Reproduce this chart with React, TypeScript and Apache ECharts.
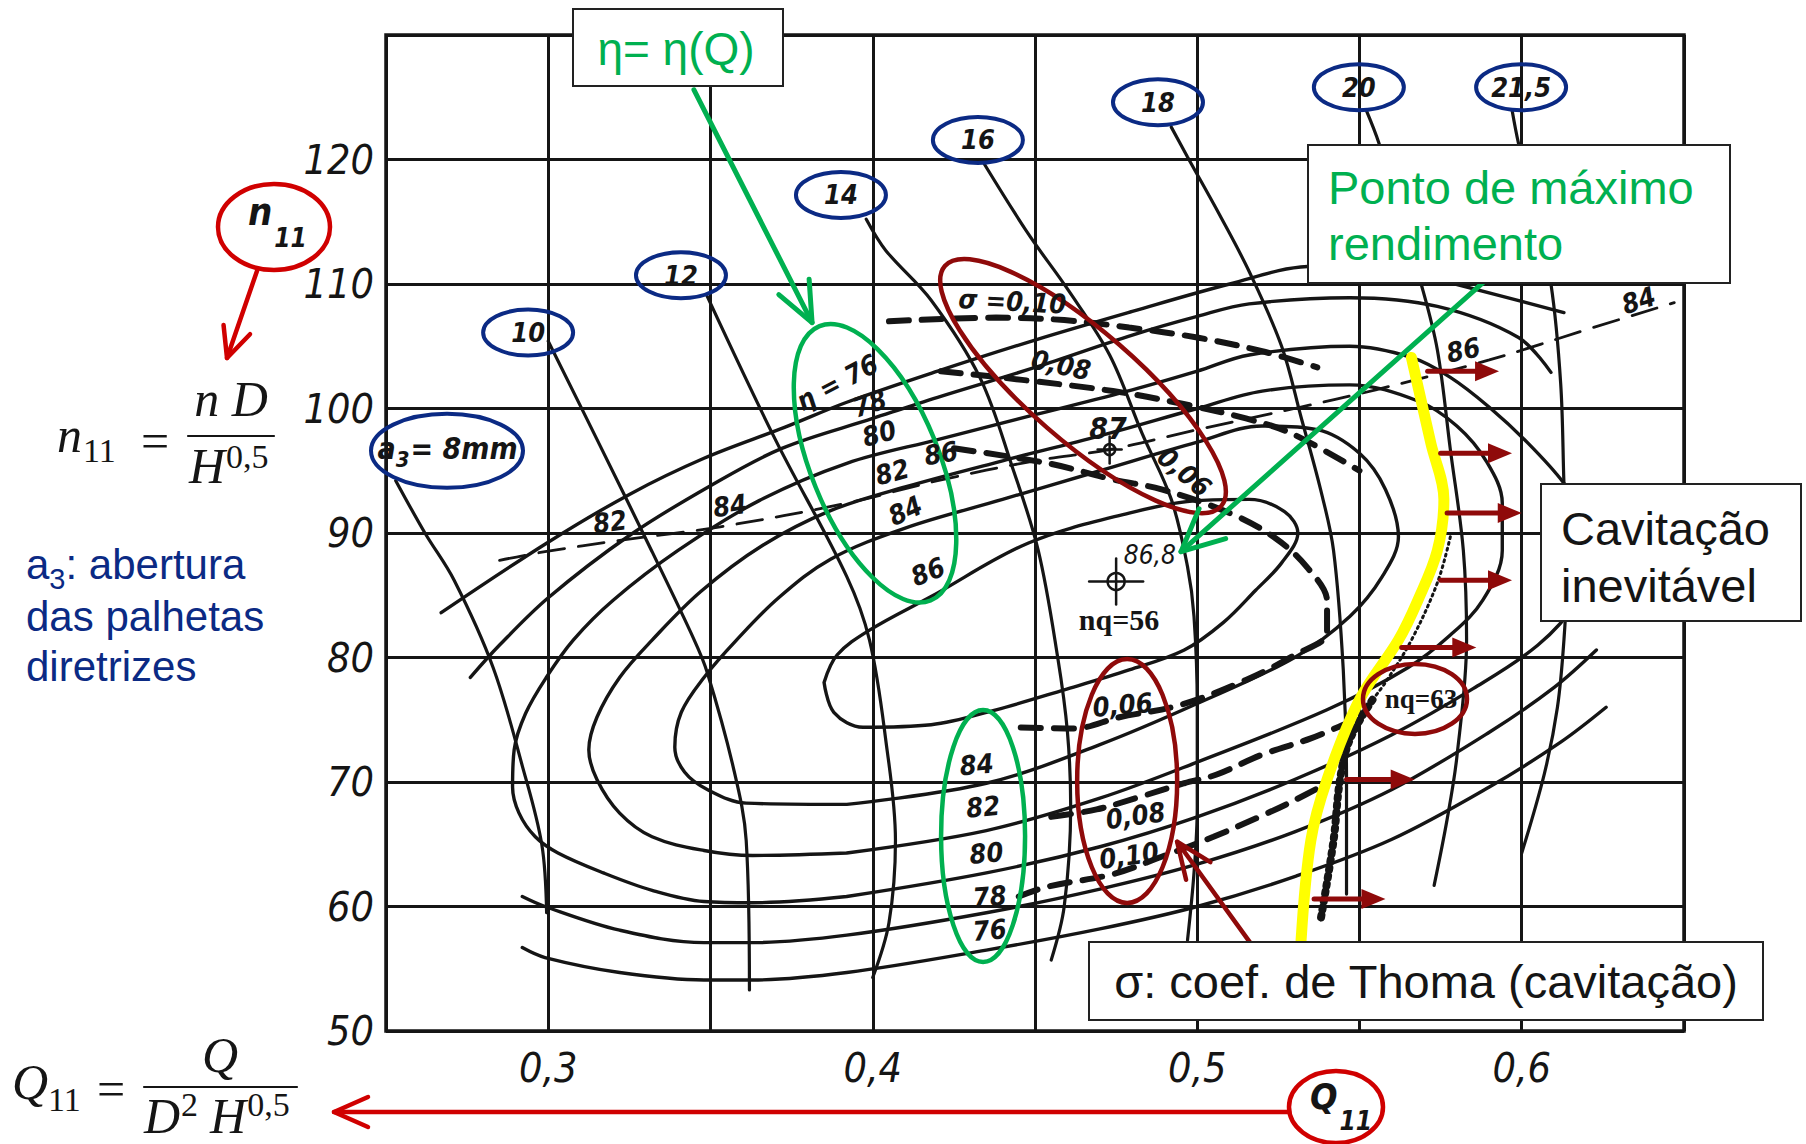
import React, { useEffect, useRef } from "react";
import * as echarts from "echarts";

// ---------- axis ticks ----------
const xTickLabels = [0.3, 0.4, 0.5, 0.6];
const yTickLabels = [50, 60, 70, 80, 90, 100, 110, 120];

// ---------- efficiency contours  [Q11, n11] ----------
const eta86 = [[0.385,78.0],[0.388,75.6],[0.397,74.4],[0.418,74.6],[0.438,75.8],[0.459,77.4],[0.479,79.0],[0.496,80.6],[0.508,82.8],[0.518,85.4],[0.526,87.6],[0.531,90.0],[0.527,91.7],[0.516,92.7],[0.500,92.6],[0.479,91.6],[0.448,89.2],[0.418,84.9],[0.399,82.2],[0.389,80.2],[0.385,78.0]];
const eta84 = [[0.392,68.2],[0.361,68.3],[0.349,69.4],[0.342,70.8],[0.339,72.8],[0.341,75.6],[0.348,78.4],[0.358,81.4],[0.371,84.8],[0.387,87.9],[0.410,90.4],[0.440,92.7],[0.470,95.0],[0.500,97.3],[0.520,98.6],[0.537,98.3],[0.550,96.4],[0.558,93.5],[0.562,89.7],[0.557,86.5],[0.547,83.3],[0.530,80.0],[0.500,76.3],[0.470,73.0],[0.435,69.9],[0.392,68.2]];
const eta82 = [[0.392,64.3],[0.363,64.1],[0.348,64.5],[0.332,65.6],[0.322,67.5],[0.315,70.2],[0.3125,72.6],[0.315,75.2],[0.322,78.4],[0.332,81.4],[0.347,85.3],[0.366,89.0],[0.387,91.8],[0.410,93.7],[0.440,95.8],[0.470,97.8],[0.500,100.0],[0.520,101.4],[0.547,101.9],[0.568,100.6],[0.580,98.6],[0.589,95.8],[0.594,92.4],[0.594,88.6],[0.588,84.6],[0.578,81.8],[0.565,79.2],[0.540,75.8],[0.500,71.6],[0.470,68.7],[0.435,66.1],[0.392,64.3]];
const eta80 = [[0.392,60.8],[0.435,62.7],[0.470,64.8],[0.500,67.2],[0.530,70.2],[0.560,73.8],[0.585,77.5],[0.605,81.0],[0.617,84.5],[0.622,88.0],[0.620,91.0],[0.613,94.0],[0.602,97.2],[0.590,100.1],[0.578,102.5],[0.566,104.1],[0.547,105.0],[0.516,104.3],[0.500,103.0],[0.480,101.5],[0.450,99.5],[0.420,97.5],[0.392,95.6],[0.365,92.6],[0.340,88.6],[0.320,84.6],[0.3077,81.4],[0.2994,78.4],[0.293,75.5],[0.2895,72.6],[0.289,69.6],[0.291,67.5],[0.296,65.6],[0.303,64.3],[0.317,62.7],[0.332,61.3],[0.348,60.4],[0.363,60.3],[0.392,60.8]];
const eta78Lower = [[0.292,60.8],[0.299,60.0],[0.322,58.1],[0.348,57.1],[0.363,57.1],[0.392,57.7],[0.435,59.5],[0.470,61.4],[0.500,63.4],[0.530,66.0],[0.560,69.4],[0.590,74.0],[0.610,77.6],[0.623,80.6]];
const eta78Upper = [[0.276,78.4],[0.285,81.0],[0.300,84.8],[0.325,89.8],[0.350,93.8],[0.372,96.8],[0.400,99.2],[0.420,100.9],[0.450,103.3],[0.480,105.9],[0.500,107.4],[0.516,108.4],[0.547,108.9],[0.574,108.2],[0.599,105.7],[0.609,102.9]];
const eta76Lower = [[0.292,56.7],[0.299,55.9],[0.322,54.7],[0.348,54.1],[0.363,54.1],[0.392,54.7],[0.435,56.5],[0.470,58.2],[0.500,60.0],[0.530,62.4],[0.560,65.4],[0.590,69.6],[0.612,73.2],[0.626,76.0]];
const eta76Upper = [[0.267,83.6],[0.2996,89.2],[0.325,93.1],[0.348,96.0],[0.373,98.5],[0.392,100.5],[0.420,103.0],[0.450,105.5],[0.480,107.8],[0.510,110.0],[0.534,111.4],[0.556,111.5],[0.578,110.1],[0.613,107.7]];

// ---------- guide vane opening a3 ----------
const a3_8 = [[0.253,94.2],[0.262,90.0],[0.271,86.2],[0.283,79.2],[0.292,71.3],[0.298,65.0],[0.2995,59.5]];
const a3_10 = [[0.300,105.4],[0.316,97.0],[0.332,88.5],[0.345,81.4],[0.349,78.8],[0.357,71.2],[0.361,65.3],[0.362,53.3]];
const a3_12 = [[0.349,109.0],[0.370,97.5],[0.392,86.5],[0.399,81.4],[0.404,73.4],[0.407,65.3],[0.405,58.7],[0.400,54.3]];
const a3_14 = [[0.398,115.2],[0.404,112.7],[0.418,108.7],[0.433,102.5],[0.443,95.3],[0.451,88.6],[0.457,80.0],[0.460,74.0],[0.461,68.0],[0.459,60.0],[0.455,55.7]];
const a3_16 = [[0.434,119.8],[0.448,114.0],[0.460,109.6],[0.473,104.3],[0.483,98.0],[0.492,92.7],[0.497,87.3],[0.499,83.3],[0.500,76.0],[0.500,68.0],[0.499,62.7],[0.497,57.3]];
const a3_18 = [[0.492,122.6],[0.497,120.2],[0.507,115.5],[0.516,111.0],[0.526,105.0],[0.532,99.3],[0.538,93.5],[0.542,88.6],[0.545,79.0],[0.546,70.0],[0.546,61.0]];
const a3_20 = [[0.552,124.0],[0.556,121.3],[0.562,116.0],[0.569,110.0],[0.574,104.7],[0.578,96.7],[0.582,88.6],[0.583,81.4],[0.580,72.0],[0.577,67.0],[0.573,61.7]];
const a3_215 = [[0.597,124.0],[0.599,121.3],[0.604,116.0],[0.609,110.0],[0.612,102.0],[0.613,94.0],[0.614,87.0],[0.613,81.4],[0.611,76.0],[0.607,70.7],[0.600,64.3]];

// ---------- Thoma coefficient sigma ----------
const sigma010Upper = [[0.405,107.0],[0.438,107.3],[0.459,107.1],[0.479,106.5],[0.500,105.7],[0.520,104.6],[0.537,103.3]];
const sigma008Upper = [[0.421,103.0],[0.446,102.3],[0.474,101.4],[0.495,100.4],[0.515,99.2],[0.529,98.0],[0.550,95.0]];
const sigma006 = [[0.425,96.8],[0.454,95.6],[0.474,94.3],[0.489,93.5],[0.510,91.6],[0.524,89.6],[0.534,87.2],[0.540,84.5],[0.540,82.0],[0.530,80.2],[0.515,78.2],[0.495,76.2],[0.476,75.2],[0.462,74.3],[0.444,74.4]];
const sigma008Lower = [[0.455,67.2],[0.469,67.8],[0.481,68.7],[0.496,69.9],[0.506,70.6],[0.520,72.2],[0.535,73.5],[0.545,74.6]];
const sigma010Lower = [[0.445,60.8],[0.454,61.6],[0.474,62.6],[0.489,64.0],[0.505,65.6],[0.520,67.3],[0.529,68.4],[0.540,69.9]];

// ---------- ridge (thin dashed) ----------
const ridge = [[0.285,87.8],[0.299,88.5],[0.322,89.4],[0.353,90.5],[0.392,92.4],[0.420,94.2],[0.450,95.8],[0.473,96.7],[0.500,98.3],[0.530,100.0],[0.555,101.5],[0.590,103.9],[0.622,106.5],[0.647,108.5]];

// ---------- cavitation limit ----------
const yellowLimit = [[0.566,104.1],[0.572,97.2],[0.576,92.7],[0.574,88.6],[0.568,84.6],[0.562,81.4],[0.550,76.6],[0.540,70.2],[0.535,65.3],[0.532,57.3]];
const dottedLimit = [[0.578,89.7],[0.574,86.0],[0.566,81.4],[0.558,78.0],[0.554,76.6]];
const hatchedLimit = [[0.554,76.6],[0.547,73.4],[0.544,70.2],[0.542,65.3],[0.538,58.9]];
const cavArrowN = [103.0, 96.4, 91.6, 86.2, 80.8, 70.2, 60.6];
const cavArrowFrom = [0.571, 0.575, 0.577, 0.575, 0.563, 0.546, 0.536];
const cavArrowTo = [0.593, 0.597, 0.600, 0.597, 0.586, 0.567, 0.558];

// ---------- marked points ----------
const bestPoint = [0.475, 86.1];
const peakPoint = [0.473, 96.7];

// ---------- in-plot labels ----------
const etaUpperLabels = [
  { text: "η = 76", q: 0.389, n: 102.1, rot: 28 },
  { text: "78", q: 0.399, n: 100.4, rot: 18 },
  { text: "80", q: 0.402, n: 98.0, rot: 15 },
  { text: "82", q: 0.406, n: 94.9, rot: 15 },
  { text: "84", q: 0.410, n: 91.8, rot: 25 },
  { text: "86", q: 0.417, n: 86.9, rot: 22 },
];
const etaLowerLabels = [
  { text: "84", q: 0.432, n: 71.4 },
  { text: "82", q: 0.434, n: 68.0 },
  { text: "80", q: 0.435, n: 64.3 },
  { text: "78", q: 0.436, n: 60.8 },
  { text: "76", q: 0.436, n: 58.1 },
];
const ridgeLabels = [
  { text: "82", q: 0.319, n: 90.9, rot: 8 },
  { text: "84", q: 0.356, n: 92.2, rot: 8 },
  { text: "86", q: 0.421, n: 96.4, rot: 10 },
  { text: "86", q: 0.582, n: 104.7, rot: 12 },
  { text: "84", q: 0.636, n: 108.7, rot: 18 },
];
const sigmaLabels = [
  { text: "σ =0,10", q: 0.443, n: 108.6, rot: -3 },
  { text: "0,08", q: 0.458, n: 103.5, rot: -12 },
  { text: "0,06", q: 0.496, n: 94.9, rot: -40 },
  { text: "0,06", q: 0.477, n: 76.2, rot: 5 },
  { text: "0,08", q: 0.481, n: 67.3, rot: 8 },
  { text: "0,10", q: 0.479, n: 64.1, rot: 8 },
];
const a3Labels = [
  { text: "10", q: 0.2938, n: 106.1 },
  { text: "12", q: 0.3409, n: 110.7 },
  { text: "14", q: 0.3902, n: 117.15 },
  { text: "16", q: 0.4324, n: 121.57 },
  { text: "18", q: 0.4879, n: 124.6 },
  { text: "20", q: 0.5498, n: 125.8 },
  { text: "21,5", q: 0.5998, n: 125.8 },
];
const a3FirstLabel = { q: 0.2688, n: 96.6 };

const HAND = "'Liberation Sans Narrow', 'DejaVu Sans Condensed', 'Liberation Sans', sans-serif";
const ARIAL = "'Liberation Sans', Arial, sans-serif";
const SERIF = "'Liberation Serif', 'DejaVu Serif', serif";
const BLACK = "#151515";
const GREEN = "#00b050";
const NAVY = "#0b2a84";
const DRED = "#8f0a0a";
const RED = "#d00000";

export default function App() {
  const ref = useRef<HTMLDivElement>(null);

  useEffect(() => {
    const chart = echarts.init(ref.current as HTMLDivElement, null, { renderer: "svg" });

    const ln = (data: number[][], width = 3.4, type: any = "solid", color = BLACK, z = 2) => ({
      type: "line",
      data,
      smooth: 0.35,
      symbol: "none",
      silent: true,
      z,
      lineStyle: { color, width, type, cap: "round" },
      emphasis: { disabled: true },
    });

    chart.setOption({
      animation: false,
      backgroundColor: "#ffffff",
      grid: { left: 386, right: 122, top: 35, bottom: 113, show: true, borderColor: BLACK, borderWidth: 3.5 },
      xAxis: {
        type: "value",
        min: 0.25,
        max: 0.65,
        interval: 0.05,
        axisLine: { show: false },
        axisTick: { show: false },
        splitLine: { show: true, lineStyle: { color: BLACK, width: 3 } },
        axisLabel: {
          margin: 16,
          fontSize: 41,
          fontStyle: "italic",
          fontFamily: HAND,
          color: BLACK,
          formatter: (v: number) => {
            const r = Math.round(v * 100) / 100;
            return xTickLabels.some((t) => Math.abs(t - r) < 1e-6) ? r.toFixed(1).replace(".", ",") : "";
          },
        },
      },
      yAxis: {
        type: "value",
        min: 50,
        max: 130,
        interval: 10,
        axisLine: { show: false },
        axisTick: { show: false },
        splitLine: { show: true, lineStyle: { color: BLACK, width: 3 } },
        axisLabel: {
          margin: 12,
          fontSize: 41,
          fontStyle: "italic",
          fontFamily: HAND,
          color: BLACK,
          formatter: (v: number) => (yTickLabels.includes(Math.round(v)) ? String(Math.round(v)) : ""),
        },
      },
      series: [
        ln(eta86), ln(eta84), ln(eta82), ln(eta80),
        ln(eta78Lower), ln(eta78Upper), ln(eta76Lower), ln(eta76Upper),
        ln(a3_8, 3.2), ln(a3_10, 3.2), ln(a3_12, 3.2), ln(a3_14, 3.2),
        ln(a3_16, 3.2), ln(a3_18, 3.2), ln(a3_20, 3.2), ln(a3_215, 3.2),
        ln(sigma010Upper, 6, [20, 13]), ln(sigma008Upper, 6, [20, 13]), ln(sigma006, 6, [20, 13]),
        ln(sigma008Lower, 6, [20, 13]), ln(sigma010Lower, 6, [20, 13]),
        ln(ridge, 2.8, [26, 14]),
        ln(dottedLimit, 3, [2, 4]),
        ln(hatchedLimit, 2.8),
        ln(hatchedLimit, 8, [2, 6]),
        ln(yellowLimit, 11, "solid", "#ffff00", 4),
      ],
    });

    const P = (q: number, n: number) => chart.convertToPixel({ gridIndex: 0 }, [q, n]) as number[];
    const cv = document.createElement("canvas").getContext("2d") as CanvasRenderingContext2D;
    const W = (font: string, s: string) => {
      cv.font = font;
      return cv.measureText(s).width;
    };
    const g: any[] = [];
    const text = (x: number, y: number, s: string, font: string, fill: string, align = "center", rot = 0, z = 30) =>
      g.push({
        type: "text", x, y, rotation: (rot * Math.PI) / 180, z, silent: true,
        style: { text: s, font, fill, textAlign: align, textVerticalAlign: "middle" },
      });
    const ell = (x: number, y: number, rx: number, ry: number, stroke: string, lw: number, rot = 0, z = 25) =>
      g.push({
        type: "ellipse", x, y, rotation: (rot * Math.PI) / 180, z, silent: true,
        shape: { cx: 0, cy: 0, rx, ry }, style: { fill: "none", stroke, lineWidth: lw },
      });
    const seg = (x1: number, y1: number, x2: number, y2: number, stroke: string, lw: number, z = 26) =>
      g.push({ type: "line", z, silent: true, shape: { x1, y1, x2, y2 }, style: { stroke, lineWidth: lw, lineCap: "round" } });
    const arrow = (x1: number, y1: number, x2: number, y2: number, color: string, lw: number, head: number, hw: number, filled: boolean, z = 26) => {
      const dx = x2 - x1, dy = y2 - y1, L = Math.hypot(dx, dy);
      const ux = dx / L, uy = dy / L, px = -uy, py = ux;
      const bx = x2 - ux * head, by = y2 - uy * head;
      if (filled) {
        seg(x1, y1, bx + ux * 2, by + uy * 2, color, lw, z);
        g.push({ type: "polygon", z, silent: true, shape: { points: [[x2, y2], [bx + px * hw, by + py * hw], [bx - px * hw, by - py * hw]] }, style: { fill: color } });
      } else {
        seg(x1, y1, x2, y2, color, lw, z);
        g.push({ type: "polyline", z, silent: true, shape: { points: [[bx + px * hw, by + py * hw], [x2, y2], [bx - px * hw, by - py * hw]] }, style: { stroke: color, lineWidth: lw, fill: "none", lineCap: "round", lineJoin: "round" } });
      }
    };
    const box = (x: number, y: number, w: number, h: number) =>
      g.push({ type: "rect", z: 40, silent: true, shape: { x, y, width: w, height: h }, style: { fill: "#ffffff", stroke: "#222", lineWidth: 2 } });

    // ----- in-plot hand labels -----
    const fLab = `italic bold 27px ${HAND}`;
    etaUpperLabels.forEach((l) => { const [x, y] = P(l.q, l.n); text(x, y, l.text, fLab, BLACK, "center", l.rot); });
    etaLowerLabels.forEach((l) => { const [x, y] = P(l.q, l.n); text(x, y, l.text, fLab, BLACK, "center", 5); });
    ridgeLabels.forEach((l) => { const [x, y] = P(l.q, l.n); text(x, y, l.text, fLab, BLACK, "center", l.rot); });
    sigmaLabels.forEach((l) => { const [x, y] = P(l.q, l.n); text(x, y, l.text, fLab, BLACK, "center", l.rot); });

    // ----- a3 ellipses + labels -----
    a3Labels.forEach((l) => {
      const [x, y] = P(l.q, l.n);
      ell(x, y, 45, 23, NAVY, 4);
      text(x, y, l.text, `italic bold 27px ${HAND}`, BLACK);
    });
    {
      const [x, y] = P(a3FirstLabel.q, a3FirstLabel.n);
      ell(x, y, 76, 37, NAVY, 4);
      const fa = `italic bold 30px ${HAND}`;
      const fs = `italic bold 22px ${HAND}`;
      const wa = W(fa, "a"), ws = W(fs, "3"), wr = W(fa, "= 8mm");
      const x0 = x - (wa + ws + wr) / 2;
      text(x0, y - 2, "a", fa, BLACK, "left");
      text(x0 + wa, y + 9, "3", fs, BLACK, "left");
      text(x0 + wa + ws + 1, y - 2, "= 8mm", fa, BLACK, "left");
    }

    // ----- green / red ellipses -----
    { const [x, y] = P(0.4007, 95.6); ell(x, y, 64, 148, GREEN, 4.5, 22); }
    { const [x, y] = P(0.434, 65.66); ell(x, y, 42, 126, GREEN, 4.5, 0); }
    { const [x, y] = P(0.4648, 101.8); ell(x, y, 183, 55, DRED, 4.5, -41); }
    { const [x, y] = P(0.4784, 70.08); ell(x, y, 50, 122, DRED, 4.5, 0); }
    { const [x, y] = P(0.5671, 76.67); ell(x, y, 52, 35, DRED, 4.5, 0); text(x + 6, y, "nq=63", `bold 27px ${SERIF}`, BLACK); }

    // ----- crosshairs -----
    {
      const [x, y] = P(bestPoint[0], bestPoint[1]);
      g.push({ type: "circle", z: 27, silent: true, shape: { cx: x, cy: y, r: 8.5 }, style: { fill: "none", stroke: BLACK, lineWidth: 2.5 } });
      seg(x - 27, y, x + 27, y, BLACK, 2.5, 27);
      seg(x, y - 23, x, y + 23, BLACK, 2.5, 27);
      const [lx, ly] = P(0.4854, 88.2);
      text(lx, ly, "86,8", `italic 26px ${HAND}`, BLACK);
      const [nx, ny] = P(0.4759, 83.09);
      text(nx, ny, "nq=56", `bold 30px ${SERIF}`, BLACK);
    }
    {
      const [x, y] = P(peakPoint[0], peakPoint[1]);
      g.push({ type: "circle", z: 27, silent: true, shape: { cx: x, cy: y, r: 5.5 }, style: { fill: "none", stroke: BLACK, lineWidth: 2.5 } });
      seg(x - 12, y, x + 12, y, BLACK, 2.5, 27);
      seg(x, y - 13, x, y + 14, BLACK, 2.5, 27);
      const [lx, ly] = P(0.4725, 98.4);
      text(lx, ly, "87", `italic bold 30px ${HAND}`, BLACK);
    }

    // ----- cavitation arrows -----
    cavArrowN.forEach((n, i) => {
      const [x1, y1] = P(cavArrowFrom[i], n);
      const [x2, y2] = P(cavArrowTo[i], n);
      arrow(x1, y1, x2, y2, DRED, 5, 24, 10, true, 28);
    });

    // ----- pointers -----
    { const [x1, y1] = P(0.5884, 110.2); const [x2, y2] = P(0.495, 88.5); arrow(x1, y1, x2, y2, GREEN, 5, 42, 20, false, 29); }
    { const [x1, y1] = P(0.3449, 125.6); const [x2, y2] = P(0.3813, 106.9); arrow(x1, y1, x2, y2, GREEN, 5, 40, 17, false, 29); }
    { const [x1, y1] = P(0.5163, 57.1); const [x2, y2] = P(0.4938, 65.2); arrow(x1, y1, x2, y2, DRED, 4.5, 36, 15, false, 29); }

    // ----- boxes with texts -----
    box(573, 9, 210, 77);
    text(676, 49, "η= η(Q)", `46px ${ARIAL}`, GREEN, "center", 0, 41);
    box(1308, 145, 422, 138);
    text(1328, 187, "Ponto de máximo", `47px ${ARIAL}`, GREEN, "left", 0, 41);
    text(1328, 243, "rendimento", `47px ${ARIAL}`, GREEN, "left", 0, 41);
    box(1541, 484, 260, 137);
    text(1561, 528, "Cavitação", `47px ${ARIAL}`, BLACK, "left", 0, 41);
    text(1561, 585, "inevitável", `47px ${ARIAL}`, BLACK, "left", 0, 41);
    box(1089, 942, 674, 78);
    text(1426, 981, "σ: coef. de Thoma (cavitação)", `47px ${ARIAL}`, BLACK, "center", 0, 41);

    // ----- left annotations -----
    ell(274, 227, 56, 43, RED, 4.5);
    {
      const fn = `italic bold 38px ${HAND}`;
      const f11 = `italic bold 26px ${HAND}`;
      const wn = W(fn, "n");
      text(248, 212, "n", fn, BLACK, "left");
      text(248 + wn + 2, 238, "11", f11, BLACK, "left");
    }
    arrow(257, 271, 227, 358, RED, 4.5, 30, 14, false);

    {
      const fm = `italic 50px ${SERIF}`;
      const fu = `50px ${SERIF}`;
      const fsb = `34px ${SERIF}`;
      text(57, 435, "n", fm, BLACK, "left");
      text(57 + W(fm, "n") + 1, 450, "11", fsb, BLACK, "left");
      text(155, 441, "=", fu, BLACK);
      seg(188, 436, 274, 436, BLACK, 2.2);
      text(231, 399, "n D", fm, BLACK);
      text(189, 466, "H", fm, BLACK, "left");
      text(189 + W(fm, "H") + 1, 456, "0,5", fsb, BLACK, "left");

      text(12, 1082, "Q", fm, BLACK, "left");
      text(12 + W(fm, "Q"), 1099, "11", fsb, BLACK, "left");
      text(111, 1089, "=", fu, BLACK);
      seg(144, 1087, 297, 1087, BLACK, 2.2);
      text(220, 1055, "Q", fm, BLACK);
      const wD = W(fm, "D"), w2 = W(fsb, "2"), wH = W(fm, "H");
      text(144, 1116, "D", fm, BLACK, "left");
      text(144 + wD + 1, 1104, "2", fsb, BLACK, "left");
      text(144 + wD + w2 + 13, 1116, "H", fm, BLACK, "left");
      text(144 + wD + w2 + 13 + wH + 1, 1104, "0,5", fsb, BLACK, "left");
    }

    {
      const fa = `42px ${ARIAL}`;
      const fs = `29px ${ARIAL}`;
      const wa = W(fa, "a"), w3 = W(fs, "3");
      text(26, 564, "a", fa, NAVY, "left");
      text(26 + wa, 579, "3", fs, NAVY, "left");
      text(26 + wa + w3, 564, ": abertura", fa, NAVY, "left");
      text(26, 616, "das palhetas", fa, NAVY, "left");
      text(26, 666, "diretrizes", fa, NAVY, "left");
    }

    // Q11 circle and long arrow
    ell(1336, 1107, 47, 36, RED, 4.5);
    {
      const fq = `italic bold 36px ${HAND}`;
      const f11 = `italic bold 26px ${HAND}`;
      const wq = W(fq, "Q");
      text(1310, 1096, "Q", fq, BLACK, "left");
      text(1310 + wq + 2, 1121, "11", f11, BLACK, "left");
    }
    arrow(1289, 1112, 334, 1112, RED, 4.5, 34, 15, false);

    chart.setOption({ graphic: { elements: g } });

    return () => chart.dispose();
  }, []);

  return (
    <div
      ref={ref}
      style={{ position: "fixed", left: 0, top: 0, width: 1806, height: 1144, background: "#ffffff" }}
    />
  );
}
